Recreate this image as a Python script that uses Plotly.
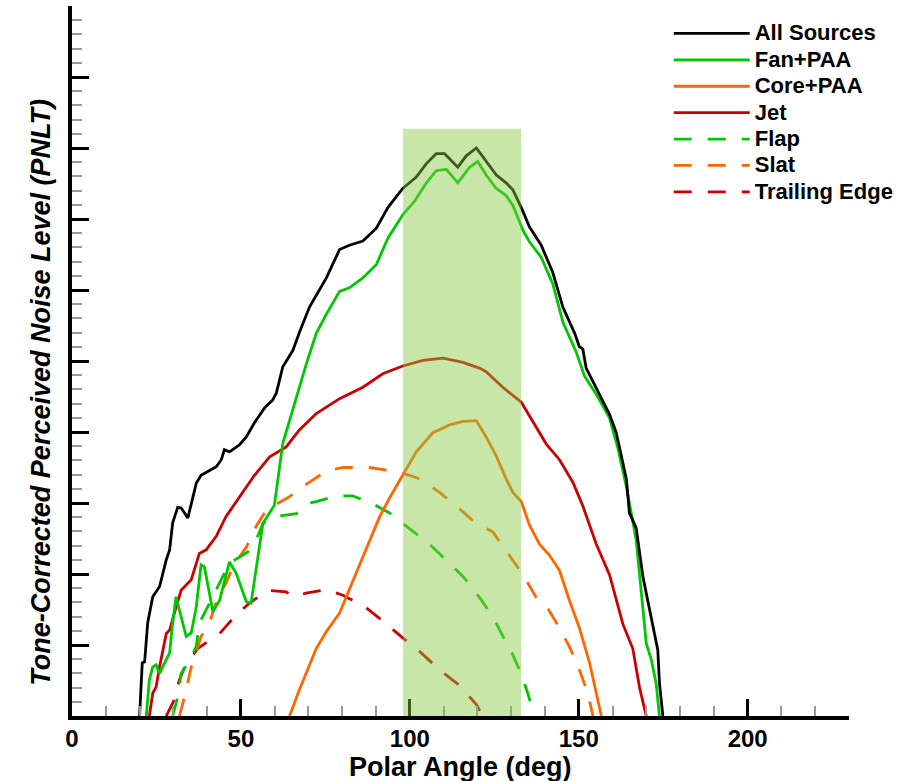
import plotly.graph_objects as go

# ---------------- data (polar angle in deg, level in arbitrary PNLT units) ----------------
all_x = [20.0, 20.8, 21.5, 22.4, 23.9, 25.9, 26.9, 27.9, 28.9, 29.8, 31.3, 32.3, 34.3, 35.3, 36.8, 38.2,
         40.2, 42.7, 44.2, 45.1, 46.6, 49.6, 51.6, 54.0, 57.0, 59.4, 60.5, 62.4, 65.4, 67.3, 70.3, 72.3,
         75.3, 79.2, 82.1, 86.1, 90.1, 93.5, 97.9, 101.9, 104.9, 107.8, 110.3, 114.2, 116.7, 119.7, 122.6,
         125.6, 128.5, 130.5, 133.0, 135.4, 138.9, 142.3, 145.3, 148.8, 150.2, 151.2, 152.2, 155.2, 159.1,
         161.1, 164.1, 165.0, 167.0, 169.0, 171.9, 173.4, 173.9, 174.9]
all_y = [0.0, 7.5, 7.6, 13.1, 16.8, 18.2, 20.1, 22.0, 23.4, 27.2, 29.4, 29.3, 27.9, 30.0, 32.8, 33.9,
         34.4, 35.1, 36.1, 37.5, 37.2, 38.2, 39.3, 41.3, 43.4, 44.5, 45.5, 49.2, 51.5, 54.0, 57.6, 59.2,
         61.7, 65.7, 66.3, 66.9, 68.7, 71.6, 74.3, 75.9, 77.8, 79.2, 79.2, 77.3, 78.9, 80.0, 78.1,
         76.2, 75.1, 74.1, 71.6, 68.9, 66.3, 62.5, 57.6, 53.9, 52.0, 51.7, 49.0, 46.1, 42.5,
         39.9, 33.4, 28.6, 26.5, 19.6, 13.1, 9.3, 4.6, 0.0]

fan_x = [22.0, 22.9, 23.9, 24.9, 25.9, 26.9, 27.9, 28.9, 29.8, 30.8, 31.8, 33.8, 35.3, 36.8, 38.2, 39.2,
         41.7, 43.7, 46.6, 48.6, 51.6, 53.0, 56.5, 59.9, 62.4, 67.3, 69.3, 72.3, 75.3, 79.2, 82.1, 86.1,
         90.1, 93.5, 97.9, 101.4, 104.9, 107.8, 110.8, 114.2, 117.7, 120.1, 122.6, 125.6, 128.5, 130.5,
         133.5, 135.4, 138.9, 142.3, 145.3, 149.3, 151.7, 155.2, 159.1, 161.6, 164.1, 167.0, 169.0, 170.0,
         171.5, 172.9, 173.9]
fan_y = [0.0, 5.1, 6.9, 7.2, 6.0, 6.9, 7.9, 8.9, 13.1, 16.8, 14.9, 11.2, 11.7, 15.4, 21.3, 21.0,
         14.7, 16.3, 21.7, 20.1, 16.1, 15.9, 27.1, 29.7, 38.4, 46.3, 49.5, 53.9, 56.6, 59.8, 60.3, 61.7,
         63.6, 67.3, 70.6, 72.5, 75.1, 76.8, 77.0, 75.1, 77.3, 78.1, 76.2, 74.3, 73.3, 71.9,
         68.4, 66.8, 64.6, 60.9, 55.5, 51.2, 47.9, 45.3, 42.0, 37.7, 32.3, 24.8, 15.1, 10.2,
         7.9, 4.6, 0.0]

core_x = [64.4, 67.3, 72.3, 75.3, 79.2, 81.2, 86.1, 91.0, 94.0, 97.9, 101.9, 106.8, 111.8, 115.7, 119.7,
          122.6, 125.6, 128.5, 130.5, 133.0, 135.4, 138.4, 141.4, 144.3, 147.3, 150.2, 153.2, 155.2, 156.7]
core_y = [0.0, 3.7, 9.5, 11.9, 14.5, 16.8, 22.6, 28.0, 30.7, 33.9, 37.2, 39.9, 41.0, 41.5, 41.6,
          39.3, 36.6, 33.4, 31.5, 30.2, 26.9, 24.2, 22.6, 20.5, 16.2, 12.4, 7.5, 3.2, 0.0]

jet_x = [22.9, 23.9, 24.9, 25.9, 27.9, 28.9, 30.3, 32.3, 35.3, 37.7, 39.7, 42.7, 45.6, 49.6, 54.0, 58.5,
         63.4, 67.3, 72.3, 79.2, 86.1, 92.0, 97.9, 103.9, 109.8, 115.7, 120.6, 122.6, 127.5, 133.0, 136.4,
         140.4, 144.3, 148.3, 151.2, 155.2, 159.1, 163.1, 166.0, 168.0, 170.0]
jet_y = [0.0, 3.2, 4.1, 6.9, 11.6, 12.1, 14.5, 17.7, 19.2, 22.9, 23.4, 25.3, 28.1, 30.9, 33.9, 36.5,
         37.9, 40.3, 42.6, 44.7, 46.3, 48.2, 49.3, 50.1, 50.4, 49.8, 49.0, 48.5, 46.3, 44.2, 41.5,
         38.3, 36.1, 32.9, 29.6, 24.2, 19.9, 12.9, 9.5, 4.0, 0.0]

flap_x = [29.8, 31.3, 32.3, 34.3, 36.8, 37.7, 40.7, 43.7, 46.6, 52.0, 54.5, 56.5, 60.5, 66.4, 70.3, 72.3,
          78.2, 83.1, 89.0, 94.0, 99.9, 105.8, 111.8, 116.2, 120.6, 124.6, 127.5, 130.5, 133.0, 134.9, 136.9]
flap_y = [0.0, 2.7, 6.0, 7.4, 9.8, 13.1, 15.9, 18.7, 21.5, 23.1, 24.8, 27.1, 28.1, 28.5, 30.0, 30.2,
          31.0, 31.0, 29.9, 28.6, 26.4, 24.2, 21.5, 19.4, 16.7, 14.0, 11.3, 8.6, 5.9, 3.2, 0.0]

slat_x = [31.8, 33.3, 35.3, 36.8, 38.2, 40.7, 43.2, 45.6, 47.6, 51.6, 54.5, 57.5, 64.4, 68.3, 75.3, 80.2,
          88.1, 95.0, 99.9, 102.9, 108.8, 113.7, 118.7, 124.6, 129.5, 133.5, 137.4, 140.9, 144.3, 147.3,
          150.2, 152.7, 154.2]
slat_y = [0.0, 2.7, 6.9, 9.3, 11.2, 13.1, 16.8, 18.7, 21.0, 23.8, 26.7, 29.0, 30.9, 32.3, 34.5, 35.0,
          35.0, 34.5, 33.9, 33.4, 31.5, 29.6, 27.5, 25.9, 22.6, 19.9, 16.7, 15.1, 12.4, 9.7,
          6.5, 3.2, 0.0]

te_x = [27.9, 30.0, 31.8, 33.3, 37.2, 40.5, 43.7, 48.1, 52.5, 58.0, 63.4, 65.4, 69.3, 75.3, 80.2, 86.4,
        92.0, 97.9, 102.9, 108.8, 114.7, 119.7, 121.6]
te_y = [0.0, 2.0, 5.1, 6.9, 9.5, 10.6, 11.6, 14.0, 15.9, 17.7, 17.5, 16.8, 17.3, 17.8, 17.0, 15.5,
        13.4, 11.0, 9.1, 6.5, 4.3, 1.6, 0.0]

band_x = [98, 133]      # highlighted angle range
band_top = 82.7

x_ticks = [0, 50, 100, 150, 200]

BLACK = "#000000"
GREEN = "#00c800"
ORANGE = "#ff6600"
RED = "#cc0000"

series = [
    # name, x, y, color, dash, rank
    ("Trailing Edge", te_x, te_y, RED, "18px,16px", 7),
    ("Slat", slat_x, slat_y, ORANGE, "18px,16px", 6),
    ("Flap", flap_x, flap_y, GREEN, "18px,16px", 5),
    ("Core+PAA", core_x, core_y, ORANGE, "solid", 3),
    ("Jet", jet_x, jet_y, RED, "solid", 4),
    ("Fan+PAA", fan_x, fan_y, GREEN, "solid", 2),
    ("All Sources", all_x, all_y, BLACK, "solid", 1),
]

fig = go.Figure()
for name, xs, ys, col, dash, rank in series:
    fig.add_trace(go.Scatter(x=xs, y=ys, mode="lines", name='<span style="font-size:22px">' + name + '</span>',
                             legendrank=rank, line=dict(color=col, width=2.8, dash=dash)))

fig.add_shape(type="rect", xref="x", yref="y", x0=band_x[0], x1=band_x[1], y0=0, y1=band_top,
              fillcolor="rgb(133,200,62)", opacity=0.45, line_width=0, layer="above")

FONT = "Liberation Sans"
fig.update_layout(
    width=910, height=781,
    margin=dict(l=72, r=61, t=6, b=65),
    plot_bgcolor="white", paper_bgcolor="white",
    font=dict(family=FONT, color="black"),
    showlegend=True,
    legend=dict(x=0.768, y=0.987, xanchor="left", yanchor="top", itemwidth=76,
                font=dict(family=FONT, size=18, weight="bold", color="black"),
                bgcolor="rgba(0,0,0,0)", tracegroupgap=0),
    xaxis=dict(range=[0, 230], tickmode="array", tickvals=x_ticks, ticktext=[str(v) for v in x_ticks],
               ticks="inside", ticklen=17, tickwidth=3, tickcolor="black",
               showline=True, linewidth=4, linecolor="black", showgrid=False, zeroline=False,
               tickfont=dict(family=FONT, size=24, weight="bold"), ticklabelstandoff=-2,
               minor=dict(dtick=10, ticks="inside", ticklen=10, tickwidth=1.5, tickcolor="#999999", showgrid=False)),
    yaxis=dict(range=[0, 100], dtick=10, ticks="inside", ticklen=17, tickwidth=3, tickcolor="black",
               showline=True, linewidth=4, linecolor="black", showgrid=False, zeroline=False,
               showticklabels=False,
               minor=dict(dtick=2, ticks="inside", ticklen=10, tickwidth=1.5, tickcolor="#999999", showgrid=False)),
)

fig.add_annotation(text="Polar Angle (deg)", xref="paper", yref="paper", x=0.5, y=-0.0725,
                   xanchor="center", yanchor="middle", showarrow=False,
                   font=dict(family=FONT, size=27, weight="bold", color="black"))
fig.add_annotation(text="Tone-Corrected Perceived Noise Level (PNLT)", xref="paper", yref="paper",
                   x=-0.041, y=0.4556, xanchor="center", yanchor="middle", textangle=-90, showarrow=False,
                   font=dict(family=FONT, size=27, weight="bold", style="italic", color="black"))

fig.write_html("out.html")
